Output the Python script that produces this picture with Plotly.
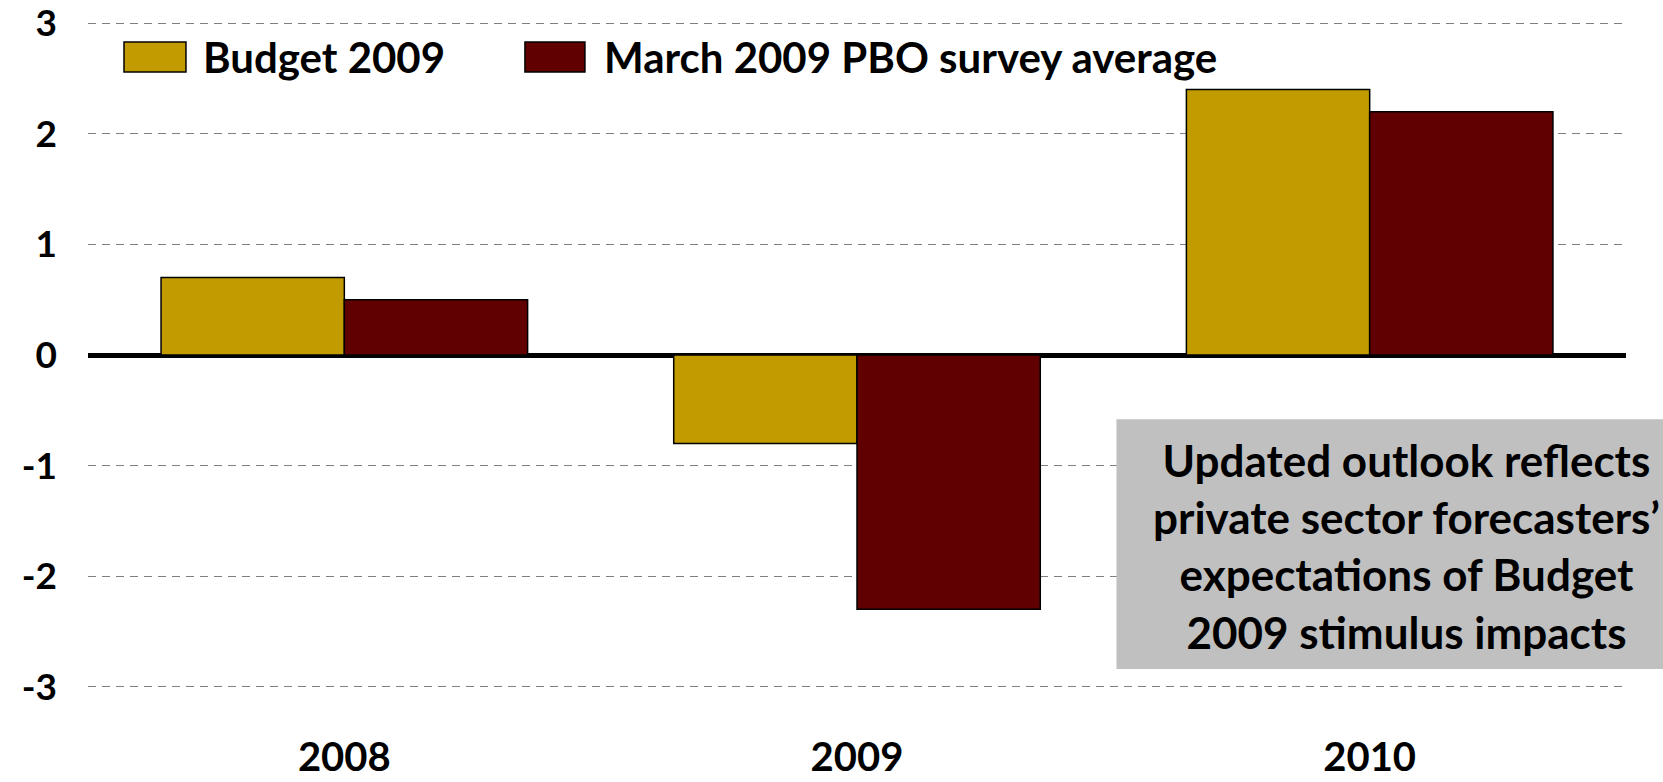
import plotly.graph_objects as go

years = ["2008", "2009", "2010"]
budget_2009 = [0.7, -0.8, 2.4]
pbo_survey = [0.5, -2.3, 2.2]
y_ticks = [-3, -2, -1, 0, 1, 2, 3]
y_tick_text = ["-3", "-2", "-1", "0", "1", "2", "3"]
names = ["Budget 2009", "March 2009 PBO survey average"]

_GOLD, _RED, _BOX = "#C29B00", "#600000", "#C0C0C0"
_FONT = "Lato"

fig = go.Figure()
for name, vals, color in [(names[0], budget_2009, _GOLD), (names[1], pbo_survey, _RED)]:
    fig.add_trace(go.Bar(name=name, x=years, y=vals, marker_color=color,
                         marker_line=dict(color="black", width=1.5), showlegend=False))

fig.update_layout(
    width=1663, height=782, barmode="group", bargap=0.285, bargroupgap=0,
    margin=dict(l=88, r=37, t=21, b=93, autoexpand=False),
    plot_bgcolor="white", paper_bgcolor="white",
    font=dict(family=_FONT, color="black", weight="bold"),
    showlegend=False,
)
fig.update_yaxes(range=[-3.02, 3.02], tickvals=y_ticks, ticktext=y_tick_text, ticks="",
                 showline=False, automargin=False, ticklabeloverflow="allow",
                 showgrid=True, gridcolor="#808080", gridwidth=1, griddash="8px,6px",
                 zeroline=True, zerolinecolor="black", zerolinewidth=5,
                 tickfont=dict(size=37, family=_FONT, weight="bold"), ticklabelstandoff=30)
fig.update_xaxes(ticks="", showline=False, showgrid=False, automargin=False,
                 ticklabeloverflow="allow",
                 tickfont=dict(size=40, family=_FONT, weight="bold"), ticklabelstandoff=41)

# legend drawn by hand so the swatches match the original's large blocks
for (x0, x1, tx), name, color in zip([(0.0234, 0.0637, 0.0735), (0.2841, 0.3231, 0.3342)],
                                     names, [_GOLD, _RED]):
    fig.add_shape(type="rect", xref="paper", yref="paper", x0=x0, x1=x1, y0=0.9237, y1=0.9686,
                  fillcolor=color, line=dict(color="black", width=1.5), layer="above")
    fig.add_annotation(xref="paper", yref="paper", x=tx, y=0.946, xanchor="left", yanchor="middle",
                       showarrow=False, text=name,
                       font=dict(size=42, family=_FONT, weight="bold", color="black"))

fig.add_shape(type="rect", xref="paper", yref="paper", x0=0.6687, x1=1.1, y0=0.030, y1=0.404,
              fillcolor=_BOX, line_width=0, layer="above")
fig.add_annotation(xref="paper", yref="paper", x=0.857, y=0.214, xanchor="center", yanchor="middle",
                   showarrow=False, align="center",
                   text="Updated outlook reflects<br>private sector forecasters’<br>"
                        "expectations of Budget<br>2009 stimulus impacts",
                   font=dict(size=44, family=_FONT, weight="bold", color="black"))

# drop the default 8px body margin so the figure sits flush with the window
fig.write_html("out.html", config={"displayModeBar": False},
               post_script="document.body.style.margin = '0';")
